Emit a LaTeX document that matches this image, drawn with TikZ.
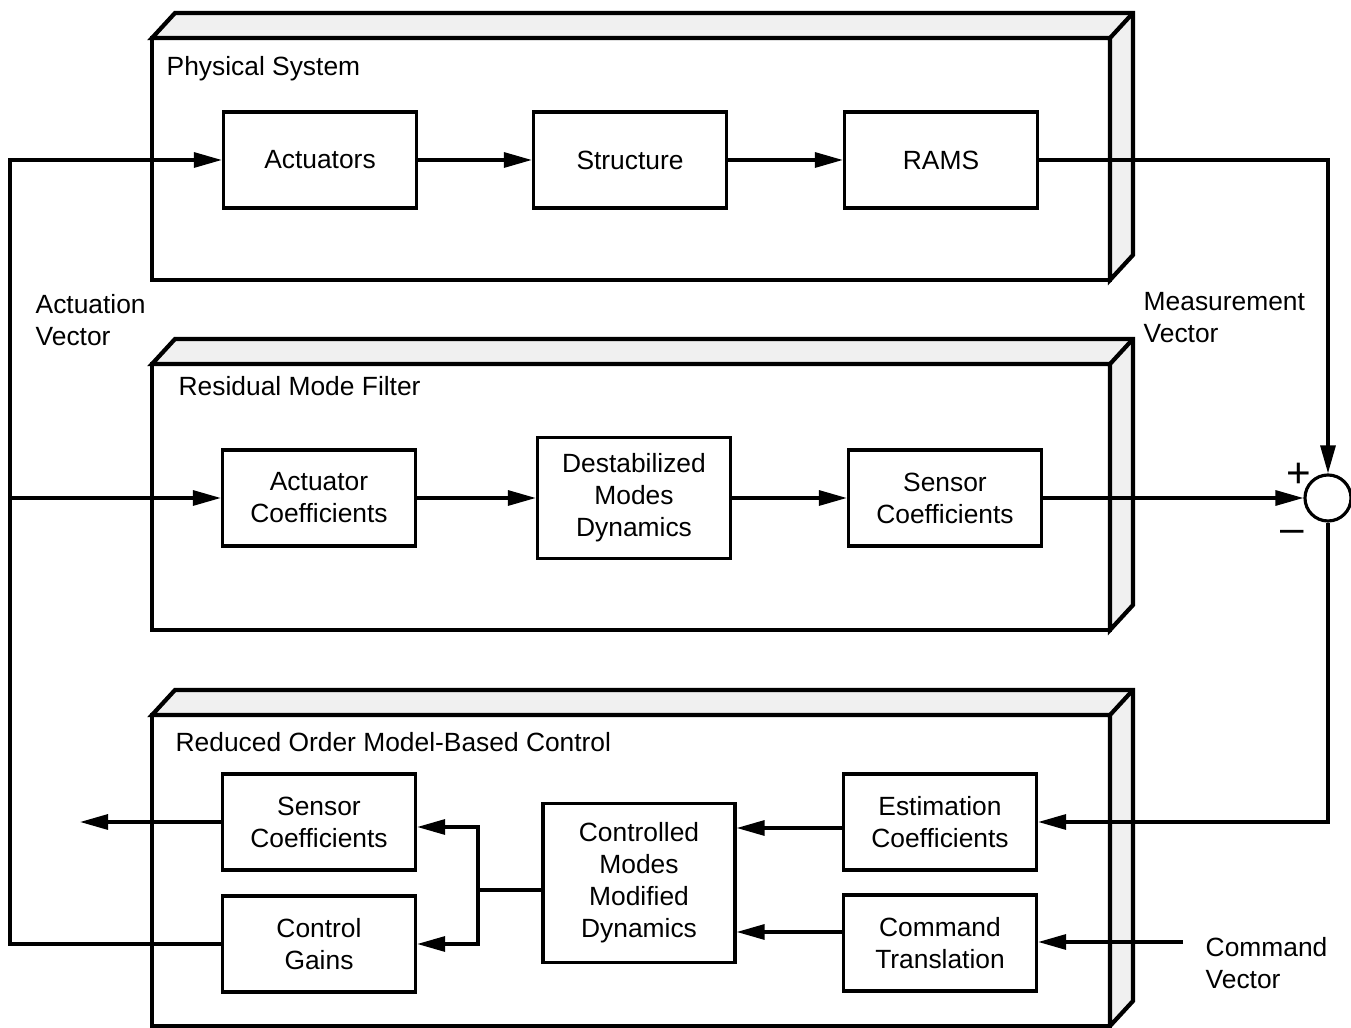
\documentclass[tikz,border=0pt]{standalone}
\usepackage{fontspec}
\setmainfont{Liberation Sans}
\usetikzlibrary{arrows.meta}
\newcommand{\slabdx}{23}
\newcommand{\slabdy}{25}
% 3D box: front face from (#1,#2) to (#3,#4), in pixels, y down
\newcommand{\drawslab}[4]{%
  \filldraw[slab, fill=gray!12] (#1,#2) -- ++(\slabdx,-\slabdy)
    -- ({#3+\slabdx},{#2-\slabdy}) -- ({#3+\slabdx},{#4-\slabdy})
    -- (#3,#4) -- (#3,#2) -- cycle;
  \draw[slab] (#1,#2) rectangle (#3,#4);
  \draw[slab] (#3,#2) -- ++(\slabdx,-\slabdy);
}
\tikzset{
  slab/.style={line width=1.2pt, line join=miter},
  block/.style={draw, line width=0.9pt, align=center, inner sep=0pt,
    minimum width=1.93cm, minimum height=0.96cm},
  arr/.style={line width=0.9pt, -{Triangle[length=0.28cm, width=0.15cm]}},
  wire/.style={line width=0.9pt},
  title/.style={anchor=base west, inner sep=0pt},
  lbl/.style={anchor=north west, align=left, inner sep=0pt},
}

\begin{document}
\begin{tikzpicture}[x=0.01cm, y=-0.01cm,
    font=\fontsize{7.5}{9.1}\selectfont]
    \useasboundingbox (0,0) rectangle (1351,1028);
    %
    \drawslab{152}{38}{1110}{280}
    \drawslab{152}{364}{1110}{630}
    \drawslab{152}{715}{1110}{1026}

    \node[title] at (166,76) {Physical System};
    \node[title] at (178,396) {Residual Mode Filter};
    \node[title] at (175,752) {Reduced Order Model-Based Control};

    % physical system
    \node[block] (act)   at (320,160) {Actuators};
    \node[block] (struc) at (630,160) {Structure};
    \node[block] (rams)  at (941,160) {RAMS};

    % residual mode filter
    \node[block] (actc)  at (319,498) {Actuator\\Coefficients};
    \node[block, minimum height=1.21cm] (destab) at (634,498)
        {Destabilized\\Modes\\Dynamics};
    \node[block] (senu)  at (945,498) {Sensor\\Coefficients};

    % reduced order control
    \node[block] (senl)  at (319,822) {Sensor\\Coefficients};
    \node[block] (gain)  at (319,944) {Control\\Gains};
    \node[block, minimum width=1.92cm, minimum height=1.59cm] (ctrl)
        at (639,883) {Controlled\\Modes\\Modified\\Dynamics};
    \node[block] (estim) at (940,822) {Estimation\\Coefficients};
    \node[block] (cmd)   at (940,943) {Command\\Translation};

    \node[draw, circle, line width=0.9pt, minimum size=0.46cm,
          inner sep=0pt] (sum) at (1328,498) {};
    \node (plus)  at (1299,475) {\large +};
    \node (minus) at (1292,536) {\large \textendash};

    \node[lbl] (actv) at (35,294) {Actuation\\Vector};
    \node[lbl] (meav) at (1143,292) {Measurement\\Vector};
    \node[lbl] (cmdv) at (1205,937) {Command\\Vector};

    \coordinate (fb)    at (10,944);
    \coordinate (split) at (478,890);
    \coordinate (out)   at (80,822);
    \coordinate (cmdin) at (1183,942);

    % connectors
    \draw[arr] (act) -- (struc);
    \draw[arr] (struc) -- (rams);
    \draw[arr] (actc) -- (destab);
    \draw[arr] (destab) -- (senu);
    \draw[arr] (rams) -| (sum);
    \draw[arr] (senu) -- (sum);
    \draw[arr] (sum) |- (estim);
    \draw[arr] ([yshift=-0.06cm]estim.west) -- ([yshift=-0.06cm]estim.west -| ctrl.east);
    \draw[arr] ([yshift=0.11cm]cmd.west) -- ([yshift=0.11cm]cmd.west -| ctrl.east);
    \draw[arr] (cmdin) -- (cmdin -| cmd.east);
    \draw[wire] (ctrl.west |- split) -- (split);
    \draw[arr] (split) |- ([yshift=-0.05cm]senl.east);
    \draw[arr] (split) |- (gain.east);
    \draw[arr] (senl.west) -- (out);
    \draw[arr] (gain.west) -- (fb) |- (act.west);
    \draw[arr] (fb |- actc) -- (actc.west);
\end{tikzpicture}
\end{document}
